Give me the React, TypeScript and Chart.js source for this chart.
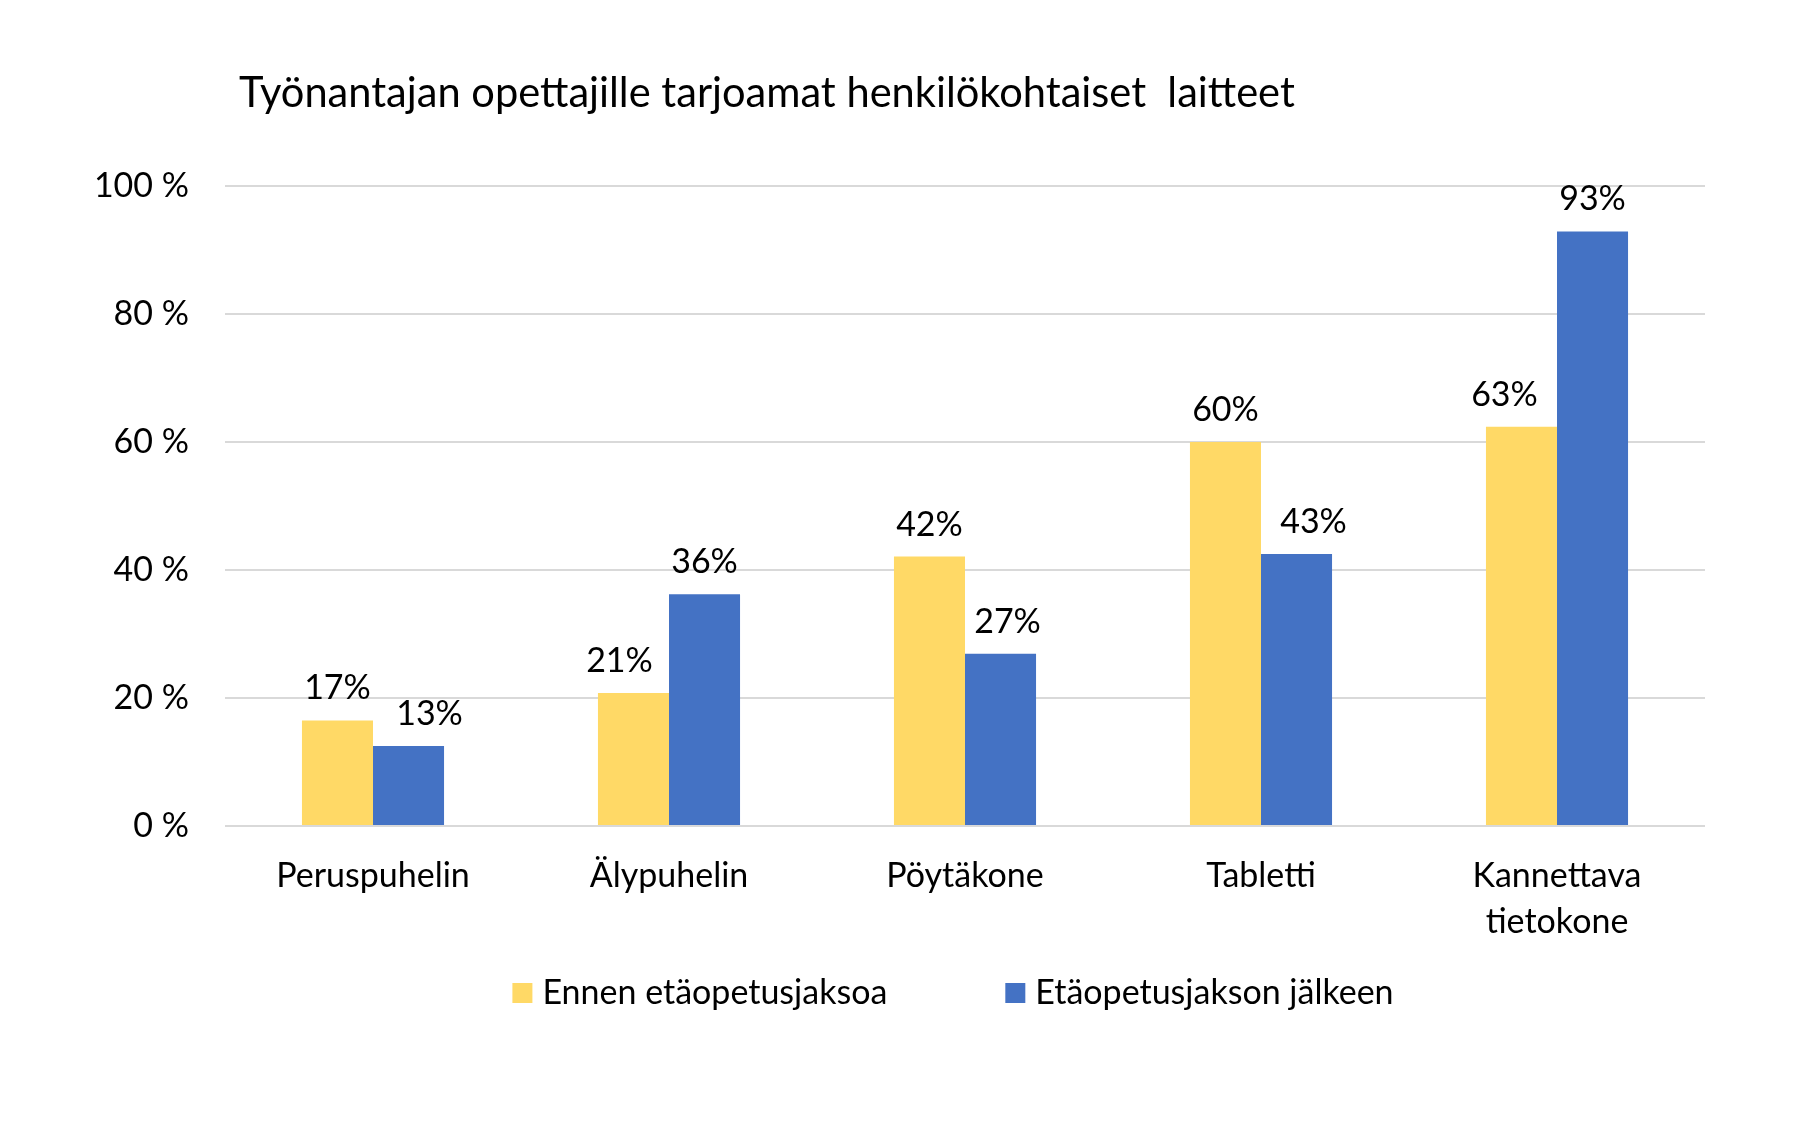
import React, { useEffect, useRef } from 'react';
import { Chart, registerables } from 'chart.js';

Chart.register(...registerables);

const titleText = 'Työnantajan opettajille tarjoamat henkilökohtaiset  laitteet';
const categories: (string | string[])[] = ['Peruspuhelin', 'Älypuhelin', 'Pöytäkone', 'Tabletti', ['Kannettava', 'tietokone']];
const seriesNames = ['Ennen etäopetusjaksoa', 'Etäopetusjakson jälkeen'];
const beforeValues = [16.5, 20.8, 42.1, 60.0, 62.4];
const afterValues = [12.5, 36.2, 26.9, 42.5, 92.9];
const beforeLabels = ['17%', '21%', '42%', '60%', '63%'];
const afterLabels = ['13%', '36%', '27%', '43%', '93%'];
const yTickValues = [0, 20, 40, 60, 80, 100];
const yTickLabels = ['0 %', '20 %', '40 %', '60 %', '80 %', '100 %'];
const seriesColors = ['#FFD966', '#4472C4'];

const FONT = 'Lato, "Open Sans", sans-serif';
const TEXT_COLOR = '#000000';

const W = 1818;
const H = 1135;

const bgPlugin = {
  id: 'bg',
  beforeDraw(chart: any) {
    const ctx = chart.ctx;
    ctx.save();
    ctx.fillStyle = '#ffffff';
    ctx.fillRect(0, 0, chart.width, chart.height);
    ctx.restore();
  },
};

const titlePlugin = {
  id: 'customTitle',
  afterDraw(chart: any) {
    const ctx = chart.ctx;
    const area = chart.chartArea;
    ctx.save();
    ctx.font = `41.6px ${FONT}`;
    ctx.fillStyle = TEXT_COLOR;
    ctx.textAlign = 'left';
    ctx.textBaseline = 'alphabetic';
    ctx.fillText(titleText, area.left + 14, area.top - 79);
    ctx.restore();
  },
};

const dataLabelPlugin = {
  id: 'dataLabels',
  afterDatasetsDraw(chart: any, _args: any, opts: any) {
    const ctx = chart.ctx;
    const labelSets = [beforeLabels, afterLabels];
    const shifts: number[][] = (opts && opts.shifts) || [];
    ctx.save();
    ctx.font = `34px ${FONT}`;
    ctx.fillStyle = TEXT_COLOR;
    ctx.textAlign = 'center';
    ctx.textBaseline = 'alphabetic';
    chart.data.datasets.forEach((_ds: any, di: number) => {
      const meta = chart.getDatasetMeta(di);
      meta.data.forEach((bar: any, i: number) => {
        const dx = (shifts[di] && shifts[di][i]) || 0;
        ctx.fillText(labelSets[di][i], bar.x + dx, bar.y - 21);
      });
    });
    ctx.restore();
  },
};

const legendPlugin = {
  id: 'customLegend',
  afterDraw(chart: any) {
    const ctx = chart.ctx;
    const area = chart.chartArea;
    const box = 20;
    const textGap = 10;
    const itemGap = 118;
    ctx.save();
    ctx.font = `34px ${FONT}`;
    const datasets = chart.data.datasets;
    const widths = datasets.map((ds: any) => ctx.measureText(ds.label).width);
    const total = widths.reduce((s: number, w: number) => s + box + textGap + w, 0) + itemGap * (datasets.length - 1);
    const cx = area.left + area.width / 2 - 12;
    const cy = area.bottom + 167;
    let x = cx - total / 2;
    datasets.forEach((ds: any, i: number) => {
      ctx.fillStyle = ds.backgroundColor;
      ctx.fillRect(x, cy - box / 2, box, box);
      ctx.fillStyle = TEXT_COLOR;
      ctx.textAlign = 'left';
      ctx.textBaseline = 'middle';
      ctx.fillText(ds.label, x + box + textGap, cy);
      x += box + textGap + widths[i] + itemGap;
    });
    ctx.restore();
  },
};

export default function App() {
  const canvasRef = useRef<HTMLCanvasElement | null>(null);

  useEffect(() => {
    document.body.style.margin = '0';
    const canvas = canvasRef.current;
    if (!canvas) return;
    const chart = new Chart(canvas, {
      type: 'bar',
      data: {
        labels: categories as any,
        datasets: [
          {
            label: seriesNames[0],
            data: beforeValues,
            backgroundColor: seriesColors[0],
            borderWidth: 0,
            categoryPercentage: 0.48,
            barPercentage: 1.0,
          },
          {
            label: seriesNames[1],
            data: afterValues,
            backgroundColor: seriesColors[1],
            borderWidth: 0,
            categoryPercentage: 0.48,
            barPercentage: 1.0,
          },
        ],
      },
      options: {
        responsive: false,
        animation: false,
        devicePixelRatio: 1,
        layout: {
          padding: { top: 186, right: 113, bottom: 0, left: 0 },
        },
        plugins: {
          legend: { display: false },
          title: { display: false },
          tooltip: { enabled: false },
          dataLabels: {
            shifts: [
              [0, -14, 0, 0, -17],
              [21, 0, 7, 17, 0],
            ],
          },
        },
        scales: {
          x: {
            grid: { display: false, drawTicks: false },
            border: { display: false },
            ticks: {
              padding: 27,
              color: TEXT_COLOR,
              font: { family: FONT, size: 34, lineHeight: 1.36 },
              maxRotation: 0,
              autoSkip: false,
            },
            afterFit(scale: any) {
              scale.height = H - 826;
            },
          },
          y: {
            min: 0,
            max: 100,
            afterBuildTicks(scale: any) {
              scale.ticks = yTickValues.map((v) => ({ value: v }));
            },
            grid: { color: '#d9d9d9', lineWidth: 2, drawTicks: false },
            border: { display: false },
            ticks: {
              padding: 36,
              color: TEXT_COLOR,
              font: { family: FONT, size: 34 },
              callback: (_v: any, index: number) => yTickLabels[index],
            },
            afterFit(scale: any) {
              scale.width = 225;
            },
          },
        },
      },
      plugins: [bgPlugin, dataLabelPlugin, titlePlugin, legendPlugin],
    } as any);
    return () => chart.destroy();
  }, []);

  return (
    <div style={{ width: W, height: H, background: '#ffffff' }}>
      <canvas ref={canvasRef} width={W} height={H} style={{ width: W, height: H, display: 'block' }} />
    </div>
  );
}
